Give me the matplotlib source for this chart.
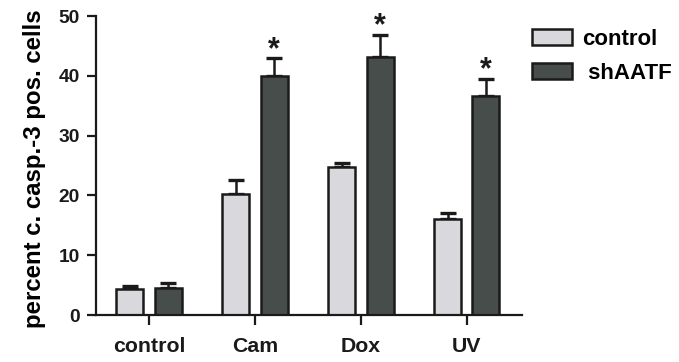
import matplotlib
matplotlib.use("Agg")
import matplotlib.pyplot as plt
import numpy as np

groups = ["control", "Cam", "Dox", "UV"]
control = [4.3, 20.2, 24.8, 16.1]
control_err = [0.55, 2.4, 0.7, 1.0]
shaatf = [4.6, 40.0, 43.2, 36.6]
shaatf_err = [0.8, 2.9, 3.7, 2.9]
signif = [False, True, True, True]

plt.rcParams['font.family'] = ['Liberation Sans', 'DejaVu Sans']
plt.rcParams['font.weight'] = 'bold'

edge = '#1a1a1a'
fig = plt.figure(figsize=(6.79, 3.62), dpi=100)
ax = fig.add_axes([0.1414, 0.1298, 0.6274, 0.826])

x = np.arange(len(groups))
w = 0.255
off = 0.18
ekw = dict(ecolor=edge, elinewidth=1.8, capthick=2.4)

ax.bar(x - off, control, w, color='#d9d9dd', edgecolor=edge, linewidth=1.8,
       label='control', zorder=2)
ax.errorbar(x - off, control, yerr=[np.zeros(4), control_err], fmt='none',
            capsize=6, zorder=1, **ekw)
ax.bar(x + off, shaatf, w, color='#474d4a', edgecolor=edge, linewidth=1.8,
       label=' shAATF', zorder=2)
ax.errorbar(x + off, shaatf, yerr=[np.zeros(4), shaatf_err], fmt='none',
            capsize=6, zorder=1, **ekw)

for i, s in enumerate(signif):
    if s:
        ax.text(x[i] + off, shaatf[i] + shaatf_err[i] + 0.1, '*',
                ha='center', va='baseline', fontsize=22, fontweight='bold',
                color=edge)

ax.set_xlim(-0.5, 3.52)
ax.set_ylim(0, 50)
ax.set_xticks(x)
ax.set_xticklabels(groups, fontsize=15.3, fontweight='bold')
ax.set_yticks([0, 10, 20, 30, 40, 50])
ax.tick_params(axis='y', labelsize=13.8, length=6.5, width=1.6, colors=edge,
               pad=5)
ax.tick_params(axis='x', length=7.5, width=1.6, colors=edge, pad=8)
for lab in ax.get_yticklabels():
    lab.set_fontweight('bold')
ax.set_ylabel('percent c. casp.-3 pos. cells', fontsize=17.3,
              fontweight='bold')
ax.yaxis.set_label_coords(-0.118, 0.49)

for sp in ['top', 'right']:
    ax.spines[sp].set_visible(False)
for sp in ['left', 'bottom']:
    ax.spines[sp].set_linewidth(1.6)
    ax.spines[sp].set_color(edge)

leg = ax.legend(loc='upper left', bbox_to_anchor=(1.023, 0.958), frameon=False,
                prop=dict(size=16, weight='bold'), handlelength=1.8,
                handleheight=0.77, handletextpad=0.45, labelspacing=0.6,
                borderpad=0, borderaxespad=0)

fig.savefig('out.png', dpi=100)
